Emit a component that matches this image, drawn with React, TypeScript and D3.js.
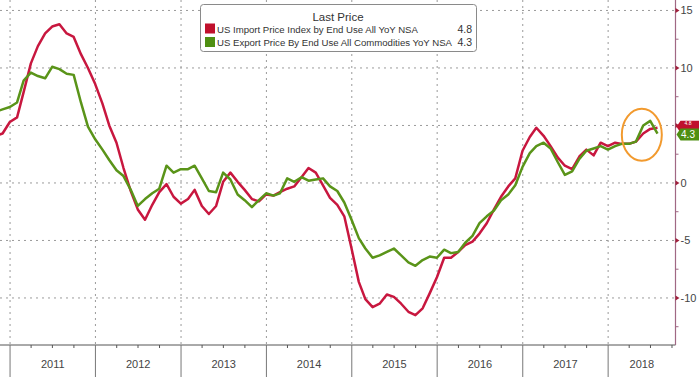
import React from "react";
import * as d3 from "d3";

// Monthly values, Oct 2010 .. Jul 2018 (month-end dates)
const startYear = 2010;
const startMonth = 9; // October (0-based)

const importYoY = [
  4.1, 4.3, 5.3,
  5.7, 7.9, 10.4, 11.9, 13.0, 13.6, 13.8, 13.0, 12.7, 11.2, 10.0, 8.6,
  6.9, 5.0, 3.5, 1.3, -0.7, -2.3, -3.2, -1.9, -0.8, -0.1, -1.2, -1.8,
  -1.4, -0.6, -2.0, -2.7, -2.0, 0.1, 0.9, 0.1, -0.6, -1.4, -1.6, -1.0,
  -1.1, -0.8, -0.5, -0.3, 0.5, 1.3, 0.9, -0.2, -1.3, -1.9, -2.9, -5.7,
  -8.6, -10.1, -10.8, -10.5, -9.7, -9.9, -10.5, -11.2, -11.5, -10.9, -9.6, -8.2,
  -6.5, -6.5, -6.0, -5.4, -5.1, -4.4, -3.5, -2.3, -1.2, -0.3, 0.4, 2.8,
  4.0, 4.8, 4.1, 3.2, 2.2, 1.5, 1.2, 2.3, 2.9, 2.4, 3.5, 3.2,
  3.5, 3.4, 3.4, 3.6, 4.3, 4.7, 4.8,
];

const exportYoY = [
  6.2, 6.4, 6.6,
  7.0, 8.9, 9.6, 9.3, 9.1, 10.1, 9.9, 9.5, 9.4, 7.0, 4.9, 3.8,
  2.9, 2.0, 1.1, 0.6, -0.6, -2.0, -1.4, -0.9, -0.5, 1.5, 0.9, 1.2,
  1.2, 1.5, 0.4, -0.7, -0.8, 0.9, 0.3, -1.0, -1.5, -2.1, -1.5, -0.9,
  -1.1, -0.9, 0.4, 0.1, 0.5, 0.2, 0.3, 0.4, -0.3, -0.7, -1.7, -3.2,
  -4.8, -5.7, -6.5, -6.3, -6.0, -5.7, -6.3, -6.9, -7.2, -6.7, -6.4, -6.5,
  -5.8, -6.1, -6.0, -5.2, -4.6, -3.5, -2.9, -2.4, -1.5, -1.0, -0.2, 1.4,
  2.6, 3.2, 3.5, 3.0, 1.8, 0.7, 1.0, 2.1, 2.8, 3.0, 3.2, 2.9,
  3.2, 3.4, 3.4, 3.6, 5.0, 5.4, 4.3,
];

const seriesNames = [
  "US Import Price Index by End Use All YoY NSA",
  "US Export Price By End Use All Commodities YoY NSA",
];
const lastValues = ["4.8", "4.3"];
const seriesColors = ["#c8173f", "#5a9419"];
const swatchColors = ["#c0102c", "#4f8f12"];

const yearLabels = ["2011", "2012", "2013", "2014", "2015", "2016", "2017", "2018"];
const yTickValues = [15, 10, 5, 0, -5, -10];
const yTickLabels = ["15", "10", "", "0", "-5", "-10"];
const yMinorTicks = [12.5, 7.5, 2.5, -2.5, -7.5, -12.5];

const W = 700;
const H = 377;
const plotRight = 675.5;
const axisY = 345;

const FONT = "'Liberation Sans', Arial, sans-serif";

export default function App() {
  const x = d3
    .scaleTime()
    .domain([new Date(2010, 10, 19), new Date(2018, 9, 16)])
    .range([0, plotRight]);
  const y = d3.scaleLinear().domain([-14.09, 15.91]).range([axisY, 0]);

  const dates = importYoY.map((_, i) => new Date(startYear, startMonth + i + 1, 0));

  const line = d3
    .line<number>()
    .x((_, i) => x(dates[i]))
    .y((d) => y(d));

  const yearStarts = yearLabels.map((yr) => new Date(+yr, 0, 1));
  const quarterTicks = d3
    .timeMonth.every(3)!
    .range(new Date(2011, 0, 1), new Date(2018, 10, 1))
    .filter((d) => d.getMonth() !== 0);

  const lastImp = importYoY[importYoY.length - 1];
  const lastExp = exportYoY[exportYoY.length - 1];

  const tag = (cy: number) => {
    const x0 = plotRight + 1;
    const h = 12;
    return `M${x0},${cy} L${x0 + 4},${cy - h / 2} L${W - 1},${cy - h / 2} L${W - 1},${cy + h / 2} L${x0 + 4},${cy + h / 2} Z`;
  };

  return (
    <svg
      width={W}
      height={H}
      style={{ position: "absolute", left: 0, top: 0, background: "#fff" }}
      fontFamily={FONT}
    >
      <defs>
        <clipPath id="plotclip">
          <rect x={0} y={0} width={plotRight} height={axisY} />
        </clipPath>
      </defs>

      {/* horizontal grid */}
      {yTickValues.map((v) => (
        <line
          key={"hg" + v}
          x1={0}
          x2={plotRight}
          y1={y(v)}
          y2={y(v)}
          stroke="#9a9a9a"
          strokeWidth={1}
          strokeDasharray="2,4"
        />
      ))}
      {/* vertical grid */}
      {yearStarts.map((d, i) => (
        <line
          key={"vg" + i}
          x1={x(d)}
          x2={x(d)}
          y1={0}
          y2={axisY}
          stroke="#9a9a9a"
          strokeWidth={1}
          strokeDasharray="2,4"
        />
      ))}

      {/* lines */}
      <g clipPath="url(#plotclip)">
        <path d={line(importYoY) || ""} fill="none" stroke={seriesColors[0]} strokeWidth={2.5} strokeLinejoin="round" />
        <path d={line(exportYoY) || ""} fill="none" stroke={seriesColors[1]} strokeWidth={2.5} strokeLinejoin="round" />
      </g>

      {/* orange highlight ellipse */}
      <ellipse
        cx={x(new Date(2018, 4, 25))}
        cy={y(4.2)}
        rx={20}
        ry={26}
        fill="none"
        stroke="#f29a2e"
        strokeWidth={2}
      />

      {/* bottom axis */}
      <line x1={0} x2={plotRight} y1={axisY} y2={axisY} stroke="#555" strokeWidth={1} />
      {yearStarts.map((d, i) => (
        <line key={"yt" + i} x1={x(d)} x2={x(d)} y1={axisY} y2={H} stroke="#777" strokeWidth={1} />
      ))}
      {quarterTicks.map((d, i) => (
        <line key={"qt" + i} x1={x(d)} x2={x(d)} y1={axisY} y2={axisY + 3} stroke="#555" strokeWidth={1} />
      ))}
      {yearLabels.map((yr, i) => {
        const a = x(yearStarts[i]);
        const b = i + 1 < yearStarts.length ? x(yearStarts[i + 1]) : plotRight;
        return (
          <text key={"yl" + yr} x={(a + b) / 2} y={368} textAnchor="middle" fontSize={11} fill="#444">
            {yr}
          </text>
        );
      })}

      {/* right axis */}
      <line x1={plotRight} x2={plotRight} y1={0} y2={axisY} stroke="#a06884" strokeWidth={1.2} />
      {yMinorTicks.map((v) => (
        <line key={"mt" + v} x1={plotRight} x2={plotRight + 3} y1={y(v)} y2={y(v)} stroke="#a06884" strokeWidth={1} />
      ))}
      {yTickValues.map((v, i) => (
        <g key={"yt" + v}>
          <path
            d={`M${plotRight},${y(v) - 2.5} L${plotRight + 4},${y(v)} L${plotRight},${y(v) + 2.5} Z`}
            fill="#a0203c"
          />
          <text x={plotRight + 5} y={y(v) + 4} fontSize={11} fill="#444">
            {yTickLabels[i]}
          </text>
        </g>
      ))}

      {/* last price tags: red one sits mostly behind the green one; its label is shown in the
          visible strip only */}
      <path d={tag(y(lastImp) - 1)} fill={swatchColors[0]} />
      <text x={688} y={y(lastImp) - 3} fontSize={5} fill="#fff" textAnchor="middle">
        {lastValues[0]}
      </text>
      <path d={tag(y(lastExp) + 1)} fill={swatchColors[1]} />
      <text x={688} y={y(lastExp) + 4.5} fontSize={10} fill="#fff" textAnchor="middle">
        {lastValues[1]}
      </text>

      {/* legend */}
      <g>
        <rect x={200.5} y={4.5} width={276} height={47} rx={3} fill="#fff" stroke="#8a8a8a" strokeWidth={1} />
        <text x={338} y={21} textAnchor="middle" fontSize={11.5} fill="#333">
          Last Price
        </text>
        {seriesNames.map((name, i) => (
          <g key={"lg" + i}>
            <rect x={205} y={23.5 + i * 13.5} width={10} height={10} fill={swatchColors[i]} />
            <text x={217} y={32.5 + i * 13.5} fontSize={9.6} fill="#333">
              {name}
            </text>
            <text x={472} y={32.5 + i * 13.5} fontSize={10.5} fill="#333" textAnchor="end">
              {lastValues[i]}
            </text>
          </g>
        ))}
      </g>
    </svg>
  );
}
